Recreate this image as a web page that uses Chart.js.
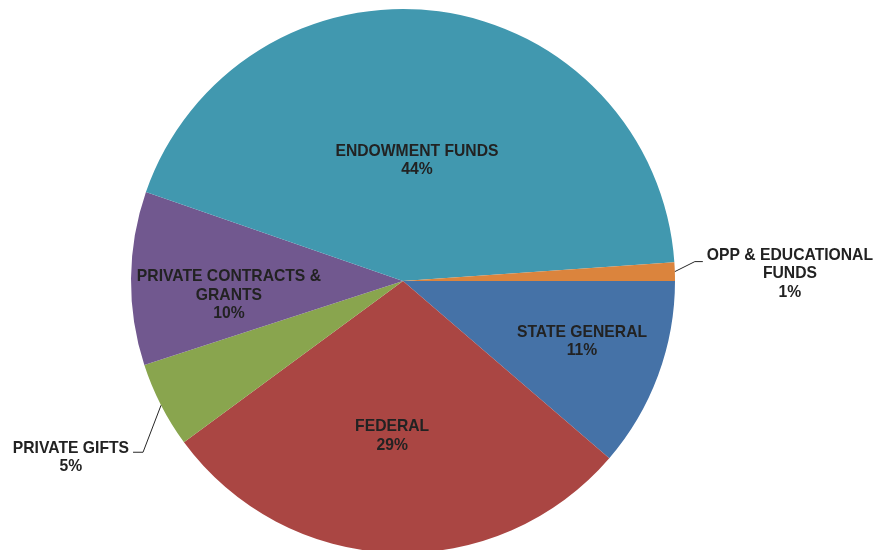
<!DOCTYPE html>
<html lang="en">
<head>
  <meta charset="utf-8">
  <title>Funding sources</title>
  <script src="https://cdn.jsdelivr.net/npm/chart.js"></script>
  <style>
    html, body {
      margin: 0;
      padding: 0;
      background: #fff;
      overflow: hidden;
    }

    .wrap {
      position: relative;
      width: 874px;
      height: 560px;
    }
  </style>
</head>
<body>

<div class="wrap">
  <canvas id="pieChart"></canvas>
</div>

<script>
  // slices, clockwise from 3 o'clock
  const categories = [
    ['STATE GENERAL'],
    ['FEDERAL'],
    ['PRIVATE GIFTS'],
    ['PRIVATE CONTRACTS &', 'GRANTS'],
    ['ENDOWMENT FUNDS'],
    ['OPP & EDUCATIONAL', 'FUNDS']
  ];
  const shares = [11.3, 28.6, 5.1, 10.3, 43.6, 1.1];
  const sliceColors = ['#4572A7', '#AA4643', '#89A54E', '#71588F', '#4198AF', '#DB843D'];

  // where each label goes: inside at a fraction of the radius, or outside with a leader line
  const labelPlacement = [
    { r: 0.694, nudge: [2, -5] },
    { r: 0.571, nudge: [-5, 0] },
    { out: true, elbow: [-18, 47], tail: -10, textDy: -4 },
    { r: 0.64, nudge: [0, 16] },
    { r: 0.446, nudge: [-2, 0] },
    { out: true, elbow: [20, -10], tail: 8, textDy: -6 }
  ];

  const LINE_H = 18.5;
  const FONT = 'bold 15.7px "Liberation Sans", Arial, sans-serif';
  const TEXT_COLOR = '#222';

  const sliceLabels = {
    id: 'sliceLabels',
    afterDatasetsDraw(chart) {
      const ctx = chart.ctx;
      const arcs = chart.getDatasetMeta(0).data;
      const total = shares.reduce((a, b) => a + b, 0);

      ctx.save();
      ctx.font = FONT;
      ctx.fillStyle = TEXT_COLOR;
      ctx.strokeStyle = '#262626';
      ctx.lineWidth = 1;
      ctx.textBaseline = 'middle';
      ctx.textAlign = 'center';

      arcs.forEach((arc, i) => {
        const p = arc.getProps(['x', 'y', 'startAngle', 'endAngle', 'outerRadius'], true);
        const mid = (p.startAngle + p.endAngle) / 2;
        const cos = Math.cos(mid), sin = Math.sin(mid);
        const lines = categories[i].concat([Math.round(shares[i] / total * 100) + '%']);
        const cfg = labelPlacement[i];

        if (!cfg.out) {
          const cx = p.x + cos * p.outerRadius * cfg.r + cfg.nudge[0];
          const cy = p.y + sin * p.outerRadius * cfg.r + cfg.nudge[1];
          const top = cy - (lines.length - 1) * LINE_H / 2;
          lines.forEach((t, k) => ctx.fillText(t, cx, top + k * LINE_H));
          return;
        }

        // leader line: edge -> elbow -> short horizontal tail
        const sx = p.x + cos * p.outerRadius;
        const sy = p.y + sin * p.outerRadius;
        const ex = sx + cfg.elbow[0];
        const ey = sy + cfg.elbow[1];
        const tx = ex + cfg.tail;
        ctx.beginPath();
        ctx.moveTo(sx, sy);
        ctx.lineTo(ex, ey);
        ctx.lineTo(tx, ey);
        ctx.stroke();

        const blockW = Math.max(...lines.map(t => ctx.measureText(t).width));
        const gap = 4;
        const cx = cfg.tail > 0 ? tx + gap + blockW / 2 : tx - gap - blockW / 2;
        const top = ey + cfg.textDy;
        lines.forEach((t, k) => ctx.fillText(t, cx, top + k * LINE_H));
      });

      ctx.restore();
    }
  };

  new Chart(document.getElementById('pieChart'), {
    type: 'pie',
    data: {
      labels: categories,
      datasets: [{
        data: shares,
        backgroundColor: sliceColors,
        borderWidth: 0,
        hoverOffset: 0,
        offset: 0
      }]
    },
    options: {
      responsive: true,
      maintainAspectRatio: false,
      animation: false,
      rotation: 90,
      layout: {
        padding: { left: 131, right: 199, top: 9, bottom: 7 }
      },
      plugins: {
        legend: { display: false },
        tooltip: { enabled: false }
      }
    },
    plugins: [sliceLabels]
  });
</script>

</body>
</html>
